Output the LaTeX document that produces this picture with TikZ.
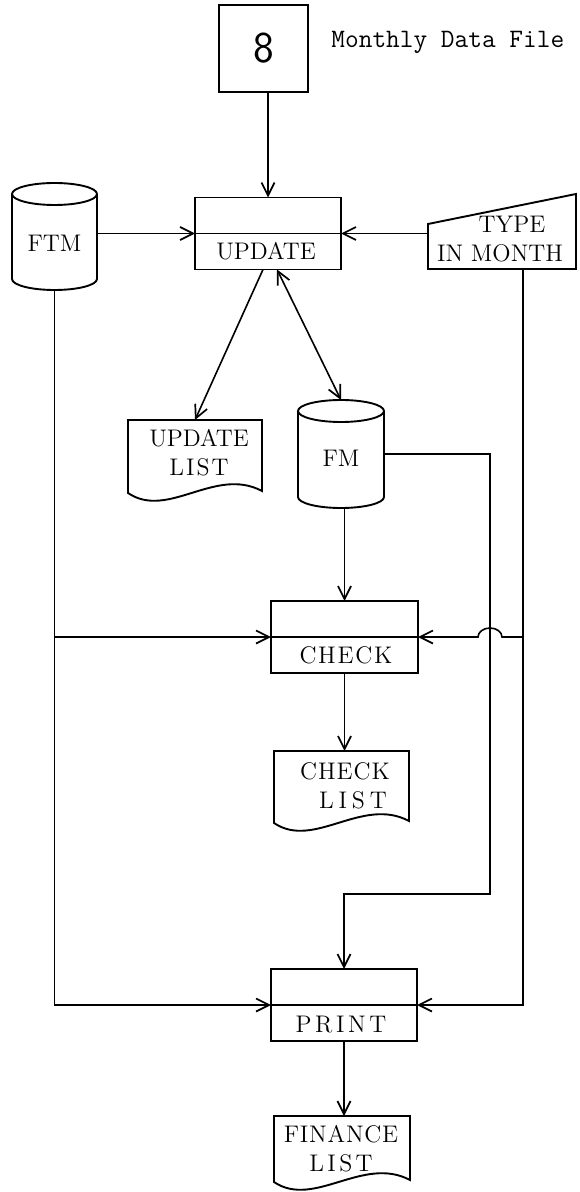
\documentclass[tikz,border=0pt]{standalone}
\usepackage{fontspec}
\usetikzlibrary{arrows.meta,calc}
\makeatletter
\newcommand{\lsp}[2]{\@tfor\lsp@c:=#2\do{\lsp@c\kern#1}\kern-#1\relax}
\makeatother
\newcommand{\lblfont}{\fontsize{12}{14.5}\selectfont}
\newcommand{\drawcyl}[3]{%
  \draw[shp] ([yshift=-#3]#1.north west) -- ([yshift=#3]#1.south west)
    arc[start angle=180,end angle=360,x radius=#2,y radius=#3]
    -- ([yshift=-#3]#1.north east)
    arc[start angle=0,end angle=180,x radius=#2,y radius=#3]
    arc[start angle=180,end angle=360,x radius=#2,y radius=#3];}
\newcommand{\drawdoc}[1]{%
  \draw[shp] (#1.north west) -- (#1.north east) -- ([yshift=5.5pt]#1.south east)
    .. controls +(-23.5pt,12.5pt) and +(20pt,-13.5pt) .. ([yshift=4.5pt]#1.south west) -- cycle;}
\tikzset{
  shp/.style={line width=0.95pt, line join=miter},
  conn/.style={line width=0.8pt},
  tip/.style={},
  arr/.style={conn,-{Straight Barb[length=6.5pt,width=6.5pt,line width=0.85pt]}},
  darr/.style={conn,{Straight Barb[length=6.5pt,width=6.5pt,line width=0.85pt]}-{Straight Barb[length=6.5pt,width=6.5pt,line width=0.85pt]}},
  holder/.style={rectangle, inner sep=0pt, outer sep=0pt},
  procbox/.style={holder, draw, line width=0.95pt, minimum width=73pt, minimum height=36pt},
  lbl/.style={font=\lblfont, align=center, inner sep=0pt},
}
\begin{document}
\begin{tikzpicture}[x=0.5pt,y=-0.5pt]
\useasboundingbox (0,0) rectangle (579,1192);
% monthly data file
\node[holder, draw, line width=0.95pt, minimum width=44.5pt, minimum height=43.5pt,
      font=\sffamily\fontsize{22}{22}\selectfont] (dfile) at (263.5,48.5) {8};
\node[anchor=base west, inner sep=0pt, font=\ttfamily\fontsize{13.3}{15}\selectfont] (mdf) at (331,48) {Monthly Data File};
% update
\node[procbox] (update) at (268,233.5) {};
\draw[shp] (update.west) -- (update.east);
\node[lbl] (updatet) at (266,251.5) {UPDATE};
% FTM
\node[holder, minimum width=42.5pt, minimum height=53.5pt] (ftm) at (54.5,236.5) {};
\drawcyl{ftm}{21.25pt}{5.5pt}
\node[lbl] (ftmt) at (54.5,243) {FTM};
% type in month
\node[holder, minimum width=74pt, minimum height=37.5pt] (typein) at (502,231.5) {};
\draw[shp] ([yshift=-15pt]typein.north west) -- (typein.north east) -- (typein.south east) -- (typein.south west) -- cycle;
\node[lbl] (typeint) at (500,239) {\hspace*{12pt}TYPE\\IN MONTH};
\coordinate (tline) at (523,269);
% update list
\node[holder, minimum width=67pt, minimum height=41pt] (uplist) at (195,461) {};
\drawdoc{uplist}
\node[lbl] (uplistt) at (199,453) {UPDATE\\\lsp{1pt}{LIST}};
% FM
\node[holder, minimum width=43pt, minimum height=54pt] (fm) at (341,454) {};
\drawcyl{fm}{21.5pt}{5.5pt}
\node[lbl] (fmt) at (341,458) {FM};
\coordinate (fmdrop) at (490,894);
% check
\node[procbox, minimum width=73.5pt] (check) at (344.5,637) {};
\draw[shp] (check.west) -- (check.east);
\node[lbl] (checkt) at (346,655) {\lsp{0.9pt}{CHECK}};
% check list
\node[holder, minimum width=67.5pt, minimum height=40.5pt] (cklist) at (341.5,791.5) {};
\drawdoc{cklist}
\node[lbl] (cklistt) at (345,786) {\lsp{0.5pt}{CHECK}\\\hspace*{8pt}\lsp{2.4pt}{LIST}};
% print
\node[procbox] (print) at (344,1005) {};
\draw[shp] (print.west) -- (print.east);
\node[lbl] (printt) at (341,1025) {\lsp{1.8pt}{PRINT}};
% finance list
\node[holder, minimum width=68pt, minimum height=37.5pt] (finlist) at (342,1153.5) {};
\drawdoc{finlist}
\node[lbl] (finlistt) at (341,1148.5) {\lsp{0.4pt}{FINANCE}\\\lsp{1.7pt}{LIST}};
% connectors
\draw[arr] (dfile.south -| update.north) -- (update.north);
\draw[arr] (ftm.east |- update.west) -- (update.west);
\draw[arr] (typein.west |- update.east) -- (update.east);
\draw[arr] ([xshift=-2.5pt]update.south) -- (uplist.north);
\draw[darr] ([xshift=4.5pt]update.south) -- (fm.north);
\draw[arr] (check.north |- fm.south) -- (check.north);
\draw[arr] (check.south) -- (check.south |- cklist.north);
\draw[arr] (fm.east) -| (fmdrop) -| (print.north);
\draw[arr] (ftm.south) |- (print.west);
\draw[arr] (ftm.south |- check.west) -- (check.west);
\draw[arr] (tline) |- (print.east);
\draw[arr] (tline |- check.east) -- ($(fmdrop |- check.east)+(6pt,0)$)
  arc[start angle=0,end angle=180,x radius=6pt,y radius=4.5pt] -- (check.east);
\draw[arr] (print.south) -- (print.south |- finlist.north);
\end{tikzpicture}
\end{document}
